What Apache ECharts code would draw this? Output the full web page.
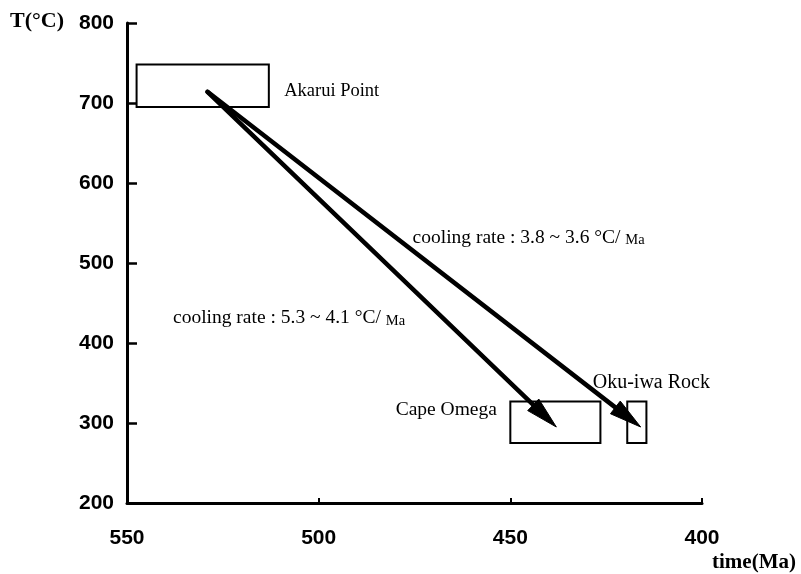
<!DOCTYPE html>
<html>
<head>
<meta charset="utf-8">
<script src="https://cdn.jsdelivr.net/npm/echarts@6/dist/echarts.min.js"></script>
<style>html,body{margin:0;padding:0;background:#fff;}#c{width:801px;height:574px;}</style>
</head>
<body>
<div id="c"></div>
<script>
// time (Ma) ticks and temperature ticks
var xTicks = [550, 500, 450, 400];
var yTicks = [200, 300, 400, 500, 600, 700, 800];
// boxes: [timeOld, timeYoung, Tlow, Thigh]
var boxNames = ['Akarui Point', 'Cape Omega', 'Oku-iwa Rock'];
var boxes = [
  [547.5, 513, 695, 748],
  [450, 426.5, 275, 327],
  [419.5, 414.5, 275, 327]
];
// arrows: [t0, T0, t1, T1]
var arrows = [
  [529, 714, 438, 295],
  [529, 714, 416, 295]
];
// annotation labels: [t, T, text, align, fontSize]
var labels = [
  [509, 715, 'Akarui Point', 'left', 18.5],
  [453.5, 317, 'Cape Omega', 'right', 19.5],
  [428.5, 350, 'Oku-iwa Rock', 'left', 20],
  [475.5, 532, 'cooling rate : 3.8 ~ 3.6 \u00b0C/ {s|Ma}', 'left', 19.5],
  [538, 431, 'cooling rate : 5.3 ~ 4.1 \u00b0C/ {s|Ma}', 'left', 19.5]
];

var chart = echarts.init(document.getElementById('c'));
var serif = '"Liberation Serif", "DejaVu Serif", serif';
var sans = '"Liberation Sans", Arial, sans-serif';

chart.setOption({
  animation: false,
  backgroundColor: '#fff',
  grid: { left: 127, right: 99, top: 23, bottom: 71, containLabel: false },
  xAxis: {
    type: 'value', min: 400, max: 550, interval: 50, inverse: true,
    axisLine: { show: true, onZero: false, lineStyle: { color: '#000', width: 3 } },
    axisTick: { show: true, inside: true, length: 5, lineStyle: { color: '#000', width: 2 } },
    splitLine: { show: false },
    axisLabel: { color: '#000', fontFamily: sans, fontWeight: 'bold', fontSize: 21, margin: 25,
      formatter: function (v) { return xTicks.indexOf(v) >= 0 ? String(v) : ''; } }
  },
  yAxis: {
    type: 'value', min: 200, max: 800, interval: 100,
    axisLine: { show: true, onZero: false, lineStyle: { color: '#000', width: 3 } },
    axisTick: { show: true, inside: true, length: 10, lineStyle: { color: '#000', width: 2.5 } },
    splitLine: { show: false },
    axisLabel: { color: '#000', fontFamily: sans, fontWeight: 'bold', fontSize: 21, margin: 13,
      formatter: function (v) { return yTicks.indexOf(v) >= 0 ? String(v) : ''; } }
  },
  graphic: [
    { type: 'text', left: 10, top: 10, style: { text: 'T(\u00b0C)', fill: '#000', font: 'bold 22px ' + serif } },
    { type: 'text', left: 712, top: 552, style: { text: 'time(Ma)', fill: '#000', font: 'bold 21px ' + serif } }
  ],
  series: [
    {
      type: 'custom', name: 'boxes',
      data: boxes,
      renderItem: function (params, api) {
        var p0 = api.coord([api.value(0), api.value(3)]);
        var p1 = api.coord([api.value(1), api.value(2)]);
        return {
          type: 'rect',
          shape: { x: Math.min(p0[0], p1[0]), y: Math.min(p0[1], p1[1]),
                   width: Math.abs(p1[0] - p0[0]), height: Math.abs(p1[1] - p0[1]) },
          style: { fill: 'none', stroke: '#000', lineWidth: 2 }
        };
      }
    },
    {
      type: 'custom', name: 'arrows',
      data: arrows,
      renderItem: function (params, api) {
        var p0 = api.coord([api.value(0), api.value(1)]);
        var p1 = api.coord([api.value(2), api.value(3)]);
        var dx = p1[0] - p0[0], dy = p1[1] - p0[1];
        var len = Math.sqrt(dx * dx + dy * dy);
        var ux = dx / len, uy = dy / len;
        var nx = -uy, ny = ux;
        var L = 32, W = 8;
        var bx = p1[0] - ux * L, by = p1[1] - uy * L;
        return {
          type: 'group',
          children: [
            { type: 'line', shape: { x1: p0[0], y1: p0[1], x2: bx + ux * 4, y2: by + uy * 4 },
              style: { stroke: '#000', lineWidth: 4.5, lineCap: 'round' } },
            { type: 'polygon', shape: { points: [[p1[0], p1[1]], [bx + nx * W, by + ny * W], [bx - nx * W, by - ny * W]] },
              style: { fill: '#000', stroke: '#000', lineWidth: 1 } }
          ]
        };
      }
    },
    {
      type: 'custom', name: 'labels',
      data: labels.map(function (l) { return [l[0], l[1]]; }),
      renderItem: function (params, api) {
        var l = labels[params.dataIndex];
        var p = api.coord([api.value(0), api.value(1)]);
        return {
          type: 'text', x: p[0], y: p[1],
          style: {
            text: l[2], fill: '#000', font: l[4] + 'px ' + serif,
            align: l[3], verticalAlign: 'middle',
            rich: { s: { fontFamily: serif, fontSize: 14.5, fill: '#000', verticalAlign: 'bottom', padding: [3, 0, 0, 0] } }
          }
        };
      }
    }
  ]
});
</script>
</body>
</html>
